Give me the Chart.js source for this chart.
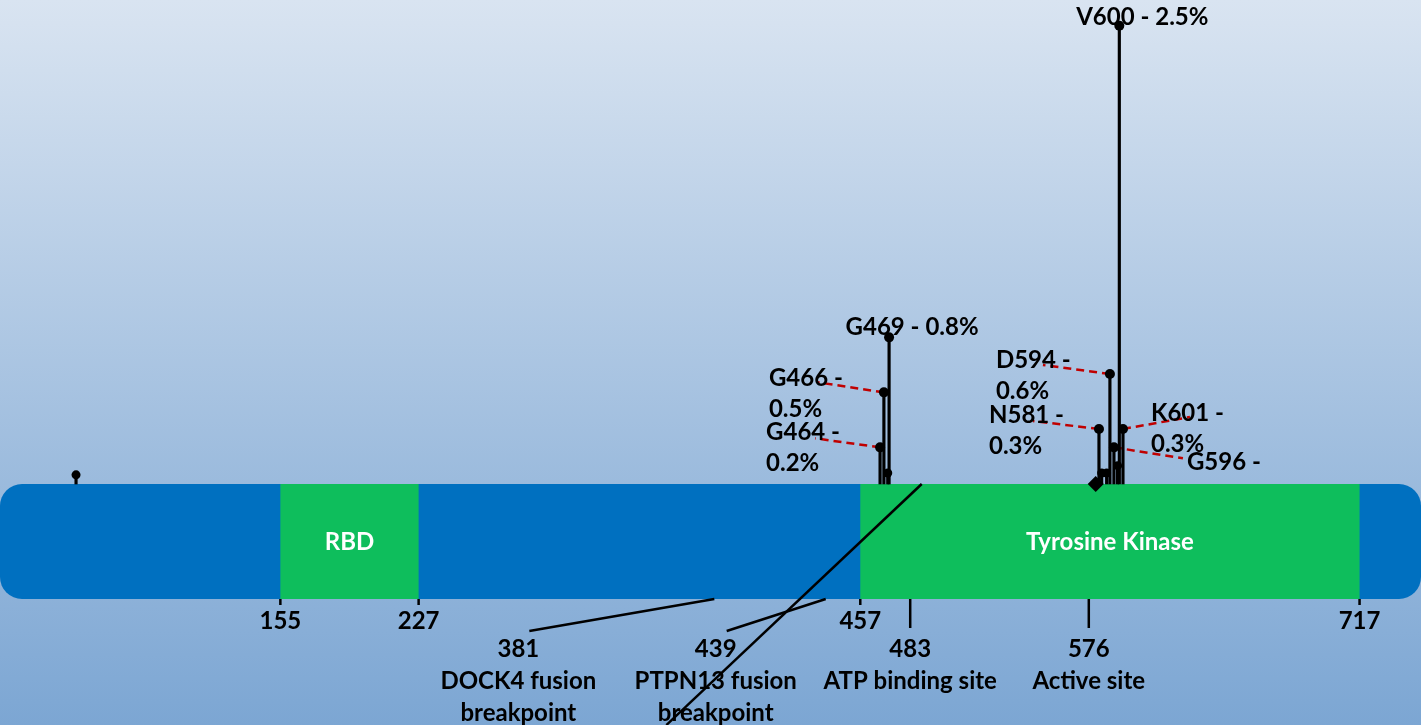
<!DOCTYPE html>
<html lang="en">
<head>
    <meta charset="UTF-8">
    <title>BRAF mutation map</title>
    <script src="https://cdn.jsdelivr.net/npm/chart.js@4.4.0/dist/chart.umd.min.js"></script>
    <style>
        html, body { margin: 0; padding: 0; }
        body { width: 1421px; height: 725px; overflow: hidden; }
        #wrap {
            position: relative; width: 1421px; height: 725px;
            background: linear-gradient(to bottom, #d9e4f1 0%, #7ca6d3 100%);
        }
    </style>
</head>
<body>
<div id="wrap"><canvas id="braf"></canvas></div>
<script>
    // Protein backbone and domains (residue numbers)
    const proteinRange = [9, 749];
    const domainNames = ['RBD', 'Tyrosine Kinase'];
    const domainStart = [155, 457];
    const domainEnd = [227, 717];

    // Mutations: residue position and frequency (%)
    const mutNames = ['', 'G464', 'G466', '', 'G469', 'N581', '', '', 'D594', 'G596', '', 'V600', 'K601', ''];
    const mutPos   = [48.6, 467.3, 469.3, 471.3, 472.0, 581.3, 582.7, 585.3, 587.0, 589.1, 591.0, 591.9, 593.8, 579.6];
    const mutFreq  = [0.05, 0.2, 0.5, 0.06, 0.8, 0.3, 0.06, 0.06, 0.6, 0.2, 0.1, 2.5, 0.3, 0];

    // Residue ticks under the backbone
    const boundaryTicks = [155, 227, 457, 717];
    const sitePos = [483, 576];
    const siteNames = ['ATP binding site', 'Active site'];
    const fusionPos = [381, 439];
    const fusionNames = [['DOCK4 fusion', 'breakpoint'], ['PTPN13 fusion', 'breakpoint']];

    // Connector running from the ATP site down to the lower edge
    const connectorX = [489, 356];
    const connectorY = [0, -1.315];

    // Label placement (pixel offsets from the marker) and leader line ends
    const BAR_HEIGHT = 115;
    const FONT = 'bold 24px Lato, "Open Sans", sans-serif';
    const labelLayout = {
        V600: { dx: 23,   dy: -9,  oneLine: true },
        G469: { dx: 23,   dy: -10, oneLine: true },
        G466: { dx: -115, dy: -14, lead: [-66, -10] },
        G464: { dx: -114, dy: -15, lead: [-65, -9] },
        D594: { dx: -114, dy: -14, lead: [-67, -9] },
        N581: { dx: -110, dy: -14, lead: [-66, -8] },
        K601: { dx: 28,   dy: -16, lead: [67, -12] },
        G596: { dx: 73,   dy: 15,  lead: [69, 11] }
    };

    const mutPoints = mutPos.map((p, i) => ({ x: p, y: mutFreq[i] }));

    const proteinPlugin = {
        id: 'protein',
        beforeDatasetsDraw(chart) {
            const { ctx, scales: { x, y } } = chart;
            const top = y.getPixelForValue(0);
            const bottom = top + BAR_HEIGHT;
            const mid = (top + bottom) / 2;

            // mutation labels with red dashed leaders, kept clear of the backbone
            ctx.save();
            ctx.beginPath();
            ctx.rect(0, 0, chart.width, top - 4);
            ctx.clip();
            ctx.font = FONT;
            ctx.textBaseline = 'alphabetic';
            mutNames.forEach((name, i) => {
                const lay = labelLayout[name];
                if (!lay) return;
                const px = x.getPixelForValue(mutPos[i]);
                const py = y.getPixelForValue(mutFreq[i]);
                if (lay.lead) {
                    ctx.strokeStyle = '#c00000';
                    ctx.lineWidth = 2.5;
                    ctx.setLineDash([8, 5]);
                    ctx.beginPath();
                    ctx.moveTo(px, py);
                    ctx.lineTo(px + lay.lead[0], py + lay.lead[1]);
                    ctx.stroke();
                    ctx.setLineDash([]);
                }
                ctx.fillStyle = '#000';
                if (lay.oneLine) {
                    ctx.textAlign = 'center';
                    ctx.fillText(name + ' - ' + mutFreq[i] + '%', px + lay.dx, py + lay.dy + 8);
                } else {
                    ctx.textAlign = 'left';
                    ctx.fillText(name + ' -', px + lay.dx, py + lay.dy + 8);
                    ctx.fillText(mutFreq[i] + '%', px + lay.dx, py + lay.dy + 39);
                }
            });
            ctx.restore();

            ctx.save();
            ctx.font = FONT;
            ctx.textBaseline = 'alphabetic';

            // backbone
            const x0 = x.getPixelForValue(proteinRange[0]);
            const x1 = x.getPixelForValue(proteinRange[1]);
            ctx.fillStyle = '#0070c0';
            ctx.beginPath();
            ctx.roundRect(x0, top, x1 - x0, BAR_HEIGHT, 22);
            ctx.fill();

            // domains
            domainNames.forEach((name, i) => {
                const a = x.getPixelForValue(domainStart[i]);
                const b = x.getPixelForValue(domainEnd[i]);
                ctx.fillStyle = '#0ebe5c';
                ctx.fillRect(a, top, b - a, BAR_HEIGHT);
                ctx.fillStyle = '#fff';
                ctx.textAlign = 'center';
                ctx.fillText(name, (a + b) / 2, mid + 9);
            });

            // ticks and residue labels
            ctx.strokeStyle = '#000';
            ctx.fillStyle = '#000';
            ctx.lineWidth = 2.5;
            ctx.textAlign = 'center';
            boundaryTicks.forEach(r => {
                const px = x.getPixelForValue(r);
                ctx.beginPath();
                ctx.moveTo(px, bottom);
                ctx.lineTo(px, bottom + 6);
                ctx.stroke();
                ctx.fillText(String(r), px, bottom + 30);
            });
            sitePos.forEach((r, i) => {
                const px = x.getPixelForValue(r);
                ctx.beginPath();
                ctx.moveTo(px, bottom);
                ctx.lineTo(px, bottom + 29);
                ctx.stroke();
                ctx.fillText(String(r), px, bottom + 58);
                ctx.fillText(siteNames[i], px, bottom + 90);
            });

            // fusion breakpoints, labels pulled to the left with leaders
            const fusionShift = [-196, -110];
            fusionPos.forEach((r, i) => {
                const px = x.getPixelForValue(r);
                const lx = px + fusionShift[i];
                ctx.beginPath();
                ctx.moveTo(lx + 11, bottom + 32);
                ctx.lineTo(px, bottom);
                ctx.stroke();
                ctx.fillText(String(r), lx, bottom + 58);
                ctx.fillText(fusionNames[i][0], lx, bottom + 90);
                ctx.fillText(fusionNames[i][1], lx, bottom + 122);
            });
            ctx.restore();
        }
    };

    new Chart(document.getElementById('braf'), {
        type: 'scatter',
        data: {
            datasets: [
                {
                    type: 'scatter',
                    data: mutPoints,
                    backgroundColor: '#000',
                    borderWidth: 0,
                    pointStyle: ctx => mutFreq[ctx.dataIndex] === 0 ? 'rectRot' : 'circle',
                    pointRadius: ctx => mutFreq[ctx.dataIndex] === 0 ? 8 : (mutNames[ctx.dataIndex] ? 5 : 4.5),
                    order: 1
                },
                {
                    type: 'bar',
                    data: mutPoints,
                    backgroundColor: '#000',
                    barThickness: 2.5,
                    order: 2
                },
                {
                    type: 'line',
                    data: connectorX.map((v, i) => ({ x: v, y: connectorY[i] })),
                    borderColor: '#000',
                    borderWidth: 2.5,
                    pointRadius: 0,
                    order: 0
                }
            ]
        },
        options: {
            responsive: true,
            maintainAspectRatio: false,
            animation: false,
            events: [],
            layout: { padding: 0, autoPadding: false },
            plugins: { legend: { display: false }, tooltip: { enabled: false } },
            scales: {
                x: { type: 'linear', min: proteinRange[0], max: proteinRange[1], offset: false, display: false },
                y: { type: 'linear', min: -1.3148, max: 2.6405, display: false }
            }
        },
        plugins: [proteinPlugin]
    });
</script>
</body>
</html>
